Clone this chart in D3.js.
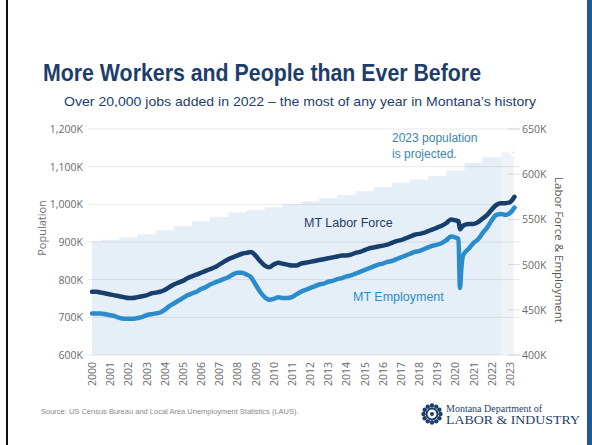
<!DOCTYPE html>
<html><head><meta charset="utf-8">
<script src="https://cdn.jsdelivr.net/npm/d3@7"></script>
<style>body{margin:0;background:#fff}svg{display:block}</style>
</head><body>
<svg id="c" width="592" height="445"></svg>
<script>
// ---- DATA ----
const popYears = [2000,2001,2002,2003,2004,2005,2006,2007,2008,2009,2010,2011,2012,2013,2014,2015,2016,2017,2018,2019,2020,2021,2022,2023];
const popValues = [902,906,912,920,931,942,955,967,978,985,992,1000,1008,1016,1025,1035,1046,1057,1066,1075,1090,1110,1125,1140];

const dates = [
"2000-01","2000-04","2000-07","2000-10","2001-01","2001-04","2001-07","2001-10",
"2002-01","2002-04","2002-07","2002-10","2003-01","2003-04","2003-07","2003-10",
"2004-01","2004-04","2004-07","2004-10","2005-01","2005-04","2005-07","2005-10",
"2006-01","2006-04","2006-07","2006-10","2007-01","2007-04","2007-07","2007-10",
"2008-01","2008-04","2008-07","2008-10","2009-01","2009-04","2009-07","2009-10",
"2010-01","2010-04","2010-07","2010-10","2011-01","2011-04","2011-07","2011-10",
"2012-01","2012-04","2012-07","2012-10","2013-01","2013-04","2013-07","2013-10",
"2014-01","2014-04","2014-07","2014-10","2015-01","2015-04","2015-07","2015-10",
"2016-01","2016-04","2016-07","2016-10","2017-01","2017-04","2017-07","2017-10",
"2018-01","2018-04","2018-07","2018-10","2019-01","2019-04","2019-07","2019-10",
"2020-01","2020-03","2020-04","2020-05","2020-06","2020-10",
"2021-01","2021-04","2021-07","2021-10","2022-01","2022-04","2022-07","2022-10",
"2023-01","2023-04"];
const laborForce = [
470,470,469,468, 467,466,465,464, 463,463,464,465, 466,468,469,470,
472,475,478,480, 482,485,487,489, 491,493,495,497, 500,503,506,508,
510,512,513,514, 510,504,499,497, 500,502,501,500, 499,499,501,502,
503,504,505,506, 507,508,509,510, 510,511,513,514, 516,518,519,520,
521,522,524,526, 527,529,531,533, 534,535,537,539, 541,543,546,550,
549,548,539,541,543,545,
545,547,551,555, 561,566,568,568,
569,575];
const employment = [
446,446,446,445, 444,443,441,440, 440,440,441,442, 444,445,446,447,
450,454,457,460, 463,466,468,470, 473,475,478,480, 482,484,486,489,
491,491,489,486, 478,470,464,461, 462,464,463,463, 464,467,470,472,
474,476,478,479, 481,482,484,485, 487,488,490,492, 494,496,498,500,
501,503,504,506, 508,510,512,514, 515,517,519,521, 522,524,527,531,
530,528,474,498,510,518,
524,528,535,541, 549,555,556,555,
557,563];

const leftTicks = [600,700,800,900,1000,1100,1200];
const rightTicks = [400,450,500,550,600,650];
const xTickYears = popYears;

// ---- CHART ----
const svg = d3.select("#c");
const NAVY = "#1c3f6d", LF = "#163f6e", EMP = "#2a8ccb";
const toYear = s => { const [y,m] = s.split("-").map(Number); return y + (m-1)/12; };

const x = d3.scaleLinear().domain([2000, 2023.25]).range([92, 514.5]);
const yL = d3.scaleLinear().domain([600, 1200]).range([355, 129]);
const yR = d3.scaleLinear().domain([400, 650]).range([355, 129]);

// slide frame
svg.append("rect").attr("x",6).attr("y",0).attr("width",2).attr("height",445).attr("fill","#111");
svg.append("rect").attr("x",587).attr("y",0).attr("width",5).attr("height",445).attr("fill","#1e5a9a");

// title
svg.append("text").attr("x",43).attr("y",81).attr("font-family","'Liberation Sans Narrow','Liberation Sans',Arial,sans-serif")
  .attr("font-weight","bold").attr("font-size",24).attr("fill","#1d3e6c")
  .attr("textLength",438).attr("lengthAdjust","spacingAndGlyphs")
  .text("More Workers and People than Ever Before");
svg.append("text").attr("x",64).attr("y",106).attr("font-family","'Liberation Sans',Arial,sans-serif")
  .attr("font-size",13).attr("fill","#1d3e6c")
  .attr("textLength",472).attr("lengthAdjust","spacingAndGlyphs")
  .text("Over 20,000 jobs added in 2022 \u2013 the most of any year in Montana\u2019s history");

// population stepped area
const pop = popYears.map((yv,i)=>({t:yv, v:popValues[i]}));
const popExt = pop.concat([{t:2023.25, v:popValues[popValues.length-1]}]);
const area = d3.area().curve(d3.curveStep).x(d=>x(d.t)).y0(yL(600)).y1(d=>yL(d.v));
svg.append("path").datum(popExt).attr("d",area).attr("fill","#e6eef7");
// projected 2023 step highlight
const lastX0 = (x(2022)+x(2023))/2, lastX1 = x(2023.25), lastY = yL(popValues[popValues.length-1]);
svg.append("path")
  .attr("d",`M${lastX0},${yL(popValues[popValues.length-2])} L${lastX0},${lastY} L${lastX1-5},${lastY} L${lastX1},${lastY+5} L${lastX1},355 L${lastX0},355`)
  .attr("fill","#edf3f9").attr("stroke","#ffffff").attr("stroke-width",1.5);

// gridlines
svg.append("g").selectAll("line").data(leftTicks).join("line")
  .attr("x1",88).attr("x2",520).attr("y1",d=>yL(d)).attr("y2",d=>yL(d))
  .attr("stroke","rgba(0,0,0,0.09)").attr("stroke-width",1);
// right ticks
svg.append("g").selectAll("line").data(rightTicks).join("line")
  .attr("x1",508).attr("x2",520).attr("y1",d=>yR(d)).attr("y2",d=>yR(d))
  .attr("stroke","rgba(0,0,0,0.12)").attr("stroke-width",1);

const fmt = d3.format(",");
svg.append("g").selectAll("text").data(leftTicks).join("text")
  .attr("x",83).attr("y",d=>yL(d)+4).attr("text-anchor","end")
  .attr("font-family","'Open Sans',sans-serif").attr("font-size",10.5).attr("fill","#6a6a6a")
  .text(d=>fmt(d)+"K");
svg.append("g").selectAll("text").data(rightTicks).join("text")
  .attr("x",522).attr("y",d=>yR(d)+4)
  .attr("font-family","'Open Sans',sans-serif").attr("font-size",10.5).attr("fill","#6a6a6a")
  .text(d=>d+"K");
svg.append("g").selectAll("text").data(xTickYears).join("text")
  .attr("transform",d=>`translate(${x(d)+4},362) rotate(-90)`).attr("text-anchor","end")
  .attr("font-family","'Open Sans',sans-serif").attr("font-size",10.5).attr("fill","#6a6a6a")
  .text(d=>d);

// axis titles
svg.append("text").attr("transform","translate(46,228) rotate(-90)").attr("text-anchor","middle")
  .attr("font-family","'Open Sans',sans-serif").attr("font-size",11).attr("fill","#707070").text("Population");
svg.append("text").attr("transform","translate(555,250) rotate(90)").attr("text-anchor","middle")
  .attr("font-family","'Open Sans',sans-serif").attr("font-size",11.5).attr("fill","#555").text("Labor Force & Employment");

// lines
const series = dates.map((d,i)=>({t:toYear(d), lf:laborForce[i], emp:employment[i]}));
const lineLF = d3.line().curve(d3.curveMonotoneX).x(d=>x(d.t)).y(d=>yR(d.lf));
const lineEmp = d3.line().curve(d3.curveMonotoneX).x(d=>x(d.t)).y(d=>yR(d.emp));
svg.append("path").datum(series).attr("d",lineEmp).attr("fill","none").attr("stroke",EMP)
  .attr("stroke-width",4.5).attr("stroke-linejoin","round").attr("stroke-linecap","round");
svg.append("path").datum(series).attr("d",lineLF).attr("fill","none").attr("stroke",LF)
  .attr("stroke-width",4.5).attr("stroke-linejoin","round").attr("stroke-linecap","round");

// labels
svg.append("text").attr("x",304).attr("y",227).attr("font-family","'Liberation Sans',Arial,sans-serif")
  .attr("font-size",12.5).attr("fill","#1d3e6c").text("MT Labor Force");
svg.append("text").attr("x",353).attr("y",301).attr("font-family","'Liberation Sans',Arial,sans-serif")
  .attr("font-size",12.5).attr("fill","#2a8ccb").text("MT Employment");
svg.append("text").attr("x",392).attr("y",142).attr("font-family","'Liberation Sans',Arial,sans-serif")
  .attr("font-size",12).attr("fill","#3d86ad").text("2023 population");
svg.append("text").attr("x",392).attr("y",158).attr("font-family","'Liberation Sans',Arial,sans-serif")
  .attr("font-size",12).attr("fill","#3d86ad").text("is projected.");

// footer
svg.append("text").attr("x",41).attr("y",414).attr("font-family","'Liberation Sans',Arial,sans-serif")
  .attr("font-size",7.5).attr("fill","#8a8a8a")
  .text("Source: US Census Bureau and Local Area Unemployment Statistics (LAUS).");

// logo
const lg = svg.append("g").attr("transform","translate(432,414)");
d3.range(12).forEach(i=>{
  const a = i/12*2*Math.PI;
  lg.append("circle").attr("cx",Math.cos(a)*8.5).attr("cy",Math.sin(a)*8.5).attr("r",2.2).attr("fill",NAVY);
});
lg.append("circle").attr("r",5.5).attr("fill","none").attr("stroke",NAVY).attr("stroke-width",2);
lg.append("circle").attr("r",2).attr("fill",NAVY);
svg.append("text").attr("x",446).attr("y",412).attr("font-family","'Liberation Serif',serif")
  .attr("font-size",10).attr("fill","#1d3e6c").text("Montana Department of");
svg.append("text").attr("x",446).attr("y",424).attr("font-family","'Liberation Serif',serif")
  .attr("font-size",12.5).attr("fill","#1d3e6c").attr("textLength",134).attr("lengthAdjust","spacingAndGlyphs")
  .text("LABOR & INDUSTRY");
</script>
</body></html>
